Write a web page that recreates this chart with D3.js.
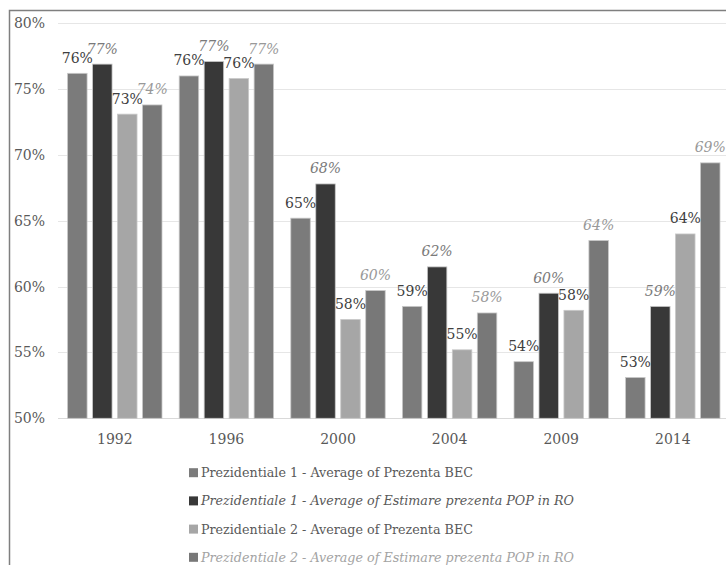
<!DOCTYPE html>
<html>
<head>
<meta charset="utf-8">
<script src="https://cdn.jsdelivr.net/npm/d3@7"></script>
<style>
  body { margin: 0; background: #fff; }
  text { font-family: "DejaVu Serif", serif; }
</style>
</head>
<body>
<svg id="chart"></svg>
<script>
const years = ['1992', '1996', '2000', '2004', '2009', '2014'];
const seriesNames = [
  'Prezidentiale 1 - Average of Prezenta BEC',
  'Prezidentiale 1 - Average of Estimare prezenta POP in RO',
  'Prezidentiale 2 - Average of Prezenta BEC',
  'Prezidentiale 2 - Average of Estimare prezenta POP in RO'
];
const p1Bec = [76.2, 76.0, 65.2, 58.5, 54.3, 53.1];
const p1Pop = [76.9, 77.1, 67.8, 61.5, 59.5, 58.5];
const p2Bec = [73.1, 75.8, 57.5, 55.2, 58.2, 64.0];
const p2Pop = [73.8, 76.9, 59.7, 58.0, 63.5, 69.4];
const yTicks = [50, 55, 60, 65, 70, 75, 80];

const allSeries = [p1Bec, p1Pop, p2Bec, p2Pop];
const colors = ['#7b7b7b', '#383838', '#a6a6a6', '#787878'];
const labelColors = ['#404040', '#7a7a7a', '#404040', '#999999'];
const italic = [false, true, false, true];
const legendText = ['#595959', '#595959', '#595959', '#a3a3a3'];

const width = 726, height = 565;
const svg = d3.select('#chart')
  .attr('width', width)
  .attr('height', height)
  .style('background', '#fff');

// outer frame (cropped at right and bottom)
svg.append('path')
  .attr('d', `M9.5,${height} V10.5 H${width}`)
  .attr('fill', 'none')
  .attr('stroke', '#7f7f7f')
  .attr('stroke-width', 1.5);

const x0 = d3.scaleBand().domain(years).range([59, 728.6]);
const x1 = d3.scaleBand().domain(d3.range(4))
  .range([8.6, x0.bandwidth() - 8.6])
  .paddingInner(0.22);
const y = d3.scaleLinear().domain([50, 80]).range([418.3, 23.3]);

// gridlines
svg.append('g')
  .selectAll('line')
  .data(yTicks)
  .join('line')
  .attr('x1', 58)
  .attr('x2', width)
  .attr('y1', d => Math.round(y(d)) + 0.5)
  .attr('y2', d => Math.round(y(d)) + 0.5)
  .attr('stroke', d => d === 50 ? '#d9d9d9' : '#e6e6e6')
  .attr('stroke-width', 1.2);

// y axis labels
svg.append('g')
  .selectAll('text')
  .data(yTicks)
  .join('text')
  .attr('x', 45)
  .attr('y', d => y(d) + 5)
  .attr('text-anchor', 'end')
  .attr('font-size', 14)
  .attr('fill', '#595959')
  .text(d => d + '%');

// x axis labels
svg.append('g')
  .selectAll('text')
  .data(years)
  .join('text')
  .attr('x', d => x0(d) + x0.bandwidth() / 2)
  .attr('y', 444)
  .attr('text-anchor', 'middle')
  .attr('font-size', 14)
  .attr('fill', '#595959')
  .text(d => d);

// bars
allSeries.forEach((vals, s) => {
  svg.append('g')
    .selectAll('rect')
    .data(vals)
    .join('rect')
    .attr('x', (d, i) => x0(years[i]) + x1(s))
    .attr('y', d => y(d))
    .attr('width', x1.bandwidth())
    .attr('height', d => y(50) - y(d))
    .attr('fill', colors[s])
    .attr('stroke', '#c8c8c8')
    .attr('stroke-width', 0.8);
});

// data labels
allSeries.forEach((vals, s) => {
  svg.append('g')
    .selectAll('text')
    .data(vals)
    .join('text')
    .attr('x', (d, i) => x0(years[i]) + x1(s) + x1.bandwidth() / 2)
    .attr('y', d => y(d) - 10.5)
    .attr('text-anchor', 'middle')
    .attr('font-size', 14)
    .attr('font-style', italic[s] ? 'italic' : 'normal')
    .attr('fill', labelColors[s])
    .text(d => Math.round(d) + '%');
});

// legend
const legend = svg.append('g')
  .selectAll('g')
  .data(seriesNames)
  .join('g')
  .attr('transform', (d, i) => `translate(189,${472.7 + i * 28.2})`);

legend.append('rect')
  .attr('x', 0)
  .attr('y', -4.5)
  .attr('width', 9)
  .attr('height', 9)
  .attr('fill', (d, i) => colors[i]);

legend.append('text')
  .attr('x', 12)
  .attr('y', 4.5)
  .attr('font-size', 12.7)
  .attr('font-style', (d, i) => italic[i] ? 'italic' : 'normal')
  .attr('fill', (d, i) => legendText[i])
  .text(d => d);
</script>
</body>
</html>
